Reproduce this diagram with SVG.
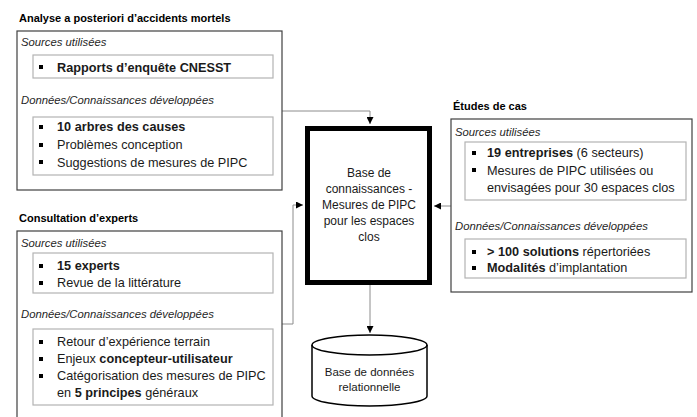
<svg xmlns="http://www.w3.org/2000/svg" width="697" height="417" viewBox="0 0 697 417">
<defs>
<marker id="arr" viewBox="0 0 10 10" refX="10" refY="5" markerWidth="7" markerHeight="7" markerUnits="userSpaceOnUse" orient="auto">
<path d="M0,0 L10,5 L0,10 z" fill="#000"/>
</marker>
<style>
text{font-family:"Liberation Sans",Arial,sans-serif;fill:#1a1a1a}
.title{font-size:11px;font-weight:bold;fill:#000}
.hdr{font-size:11.3px;font-style:italic;fill:#262626}
.t{font-size:12.7px}
.b{font-weight:bold}
.outer{fill:#fff;stroke:#404040;stroke-width:1.2}
.inner{fill:#fff;stroke:#b3b3b3;stroke-width:1.2}
.bul{fill:#000}
.conn{fill:none;stroke:#8c8c8c;stroke-width:1}
.ctr{font-size:12px;text-anchor:middle}
.cyl{font-size:11.5px;text-anchor:middle}
</style>
</defs>
<rect width="697" height="417" fill="#fff"/>

<g id="connectors">
<path class="conn" d="M282,111 H370 V124" marker-end="url(#arr)"/>
<path class="conn" d="M282,324 H293 V205 H303" marker-end="url(#arr)"/>
<path class="conn" d="M451,206 H434" marker-end="url(#arr)"/>
<path class="conn" d="M370,285 V333" marker-end="url(#arr)"/>
</g>

<g id="analyse">
<text class="title" x="19" y="22">Analyse a posteriori d’accidents mortels</text>
<rect class="outer" x="17" y="31" width="265" height="159"/>
<text class="hdr" x="21" y="46">Sources utilisées</text>
<rect class="inner" x="33" y="55" width="240" height="23"/>
<rect class="bul" x="39" y="65" width="4" height="4"/>
<text class="t b" x="57" y="72">Rapports d’enquête CNESST</text>
<text class="hdr" x="21" y="104">Données/Connaissances développées</text>
<rect class="inner" x="33" y="117" width="240" height="58"/>
<rect class="bul" x="39" y="125" width="4" height="4"/>
<text class="t b" x="57" y="131">10 arbres des causes</text>
<rect class="bul" x="39" y="143" width="4" height="4"/>
<text class="t" x="57" y="149">Problèmes conception</text>
<rect class="bul" x="39" y="160" width="4" height="4"/>
<text class="t" x="57" y="167">Suggestions de mesures de PIPC</text>
</g>

<g id="consultation">
<text class="title" x="19" y="222">Consultation d’experts</text>
<rect class="outer" x="17" y="231" width="265" height="195"/>
<text class="hdr" x="21" y="247">Sources utilisées</text>
<rect class="inner" x="33" y="253" width="240" height="40"/>
<rect class="bul" x="39" y="264" width="4" height="4"/>
<text class="t b" x="57" y="270">15 experts</text>
<rect class="bul" x="39" y="281" width="4" height="4"/>
<text class="t" x="57" y="287">Revue de la littérature</text>
<text class="hdr" x="21" y="318">Données/Connaissances développées</text>
<rect class="inner" x="33" y="329" width="240" height="76"/>
<rect class="bul" x="39" y="340" width="4" height="4"/>
<text class="t" x="57" y="346">Retour d’expérience terrain</text>
<rect class="bul" x="39" y="357" width="4" height="4"/>
<text class="t" x="57" y="363">Enjeux <tspan class="b">concepteur-utilisateur</tspan></text>
<rect class="bul" x="39" y="374" width="4" height="4"/>
<text class="t" x="57" y="380">Catégorisation des mesures de PIPC</text>
<text class="t" x="57" y="397">en <tspan class="b">5 principes</tspan> généraux</text>
</g>

<g id="etudes">
<text class="title" x="453" y="110">Études de cas</text>
<rect class="outer" x="451" y="119" width="241" height="173"/>
<text class="hdr" x="455" y="136">Sources utilisées</text>
<rect class="inner" x="465" y="142" width="221" height="58"/>
<rect class="bul" x="472" y="151" width="4" height="4"/>
<text class="t" x="487" y="157"><tspan class="b">19 entreprises</tspan> (6 secteurs)</text>
<rect class="bul" x="472" y="168" width="4" height="4"/>
<text class="t" x="487" y="174.5">Mesures de PIPC utilisées ou</text>
<text class="t" x="487" y="191.5">envisagées pour 30 espaces clos</text>
<text class="hdr" x="455" y="230">Données/Connaissances développées</text>
<rect class="inner" x="465" y="239" width="221" height="39"/>
<rect class="bul" x="472" y="250" width="4" height="4"/>
<text class="t" x="487" y="256"><tspan class="b">&gt; 100 solutions</tspan> répertoriées</text>
<rect class="bul" x="472" y="266" width="4" height="4"/>
<text class="t" x="487" y="272"><tspan class="b">Modalités</tspan> d’implantation</text>
</g>

<g id="base-connaissances">
<rect x="307.5" y="128.5" width="122" height="154" fill="#fff" stroke="#000" stroke-width="5"/>
<text class="ctr" x="369" y="177">Base de</text>
<text class="ctr" x="369" y="193">connaissances -</text>
<text class="ctr" x="369" y="209">Mesures de PIPC</text>
<text class="ctr" x="369" y="225">pour les espaces</text>
<text class="ctr" x="369" y="241">clos</text>
</g>

<g id="base-donnees">
<path d="M312,345 A57.5,10 0 0 1 427,345 V396 A57.5,10 0 0 1 312,396 Z" fill="#fff" stroke="#000" stroke-width="1.5"/>
<path d="M312,345 A57.5,10 0 0 0 427,345" fill="none" stroke="#000" stroke-width="1.5"/>
<text class="cyl" x="369.5" y="376">Base de données</text>
<text class="cyl" x="369.5" y="391">relationnelle</text>
</g>
</svg>
